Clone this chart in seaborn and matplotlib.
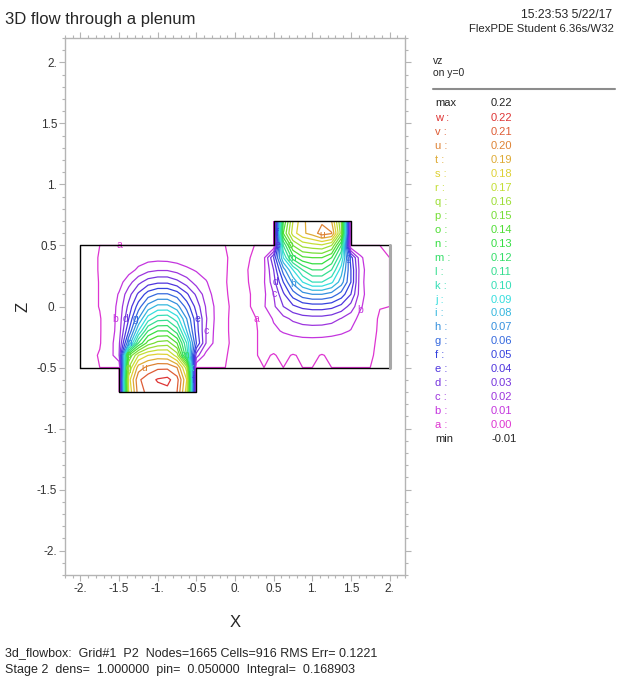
import numpy as np
import matplotlib
matplotlib.use("Agg")
import matplotlib.pyplot as plt
import seaborn as sns
from matplotlib.ticker import FixedLocator, MultipleLocator
from matplotlib.lines import Line2D

N = np.nan

# Gitterknoten (x: Spalten, z: Zeilen)
x_nodes = [-2.0, -1.875, -1.75, -1.625, -1.5, -1.375, -1.25, -1.125, -1.0, -0.875, -0.75,
           -0.625, -0.5, -0.375, -0.25, -0.125, 0.0, 0.125, 0.25, 0.375, 0.5, 0.625,
           0.75, 0.875, 1.0, 1.125, 1.25, 1.375, 1.5, 1.625, 1.75, 1.875, 2.0]
z_nodes = [-0.7, -0.6, -0.5, -0.4, -0.3, -0.2, -0.1, 0.0, 0.1, 0.2, 0.3, 0.4, 0.5, 0.6, 0.7]

# vz in Hundertsteln (Zeile z=-0.7 zuerst)
vz_rows = [
    [N] * 4 + [0, 17, 20.5, 21.3, 21.6, 21.7, 21, 17.5, 0] + [N] * 20,
    [N] * 4 + [0, 17.5, 20.8, 21.6, 22.1, 22.3, 21.4, 18, 0] + [N] * 20,
    [0] * 4 + [0, 16, 19.5, 20.3, 20.8, 20.8, 20, 16.5, 0] + [0] * 20,
    [0, -0.15, 0.05, 0.4, 2, 14, 17, 18, 18.3, 18.2, 16.5, 11, 2.5, 0.6, 0.2, 0.05, -0.2,
     -0.3, -0.05, 0.1, -0.05, 0.15, -0.05, 0.1, 0.15, -0.05, 0.15, 0.2, 0.1, 0.05, 0.05, -0.1, 0],
    [0, -0.2, -0.05, 0.5, 1.8, 7, 12, 14.5, 15.3, 15.5, 14, 10, 5, 2, 0.6, 0.2, -0.3,
     -0.5, -0.1, 0.2, 0.3, 0.45, 0.55, 0.6, 0.6, 0.6, 0.55, 0.45, 0.35, 0.2, 0.1, -0.1, 0],
    [0, -0.2, -0.05, 0.4, 1.5, 5, 9, 12, 13, 13, 11.5, 8, 4.5, 2, 0.7, 0.2, -0.4,
     -0.6, -0.2, 0.4, 0.8, 1.1, 1.3, 1.45, 1.5, 1.45, 1.35, 1.2, 0.95, 0.6, 0.2, -0.1, 0],
    [0, -0.2, -0.05, 0.4, 1.4, 4, 7, 9.5, 10.6, 10.7, 9.5, 7, 4.3, 2.1, 0.8, 0.2, -0.4,
     -0.5, -0.1, 0.4, 1.1, 1.7, 2.2, 2.5, 2.6, 2.6, 2.4, 1.95, 1.4, 0.7, 0.3, -0.1, 0],
    [0, -0.2, 0.03, 0.4, 1.3, 3.3, 5.5, 7.4, 8.3, 8.3, 7.4, 5.6, 3.6, 1.9, 0.8, 0.2, -0.3,
     -0.3, 0.2, 0.9, 1.8, 3.0, 3.8, 4.3, 4.5, 4.5, 4.3, 3.7, 2.6, 1.1, 0.5, 0.03, 0],
    [0, -0.2, 0.03, 0.3, 1.1, 2.6, 4.2, 5.5, 6.1, 6.1, 5.5, 4.2, 2.8, 1.5, 0.6, 0.1, -0.3,
     -0.3, 0.2, 0.8, 2.0, 3.8, 5.5, 6.6, 7, 7, 6.6, 5.6, 4, 1.4, 0.4, 0.03, 0],
    [0, -0.2, 0.03, 0.1, 0.6, 1.6, 2.7, 3.5, 3.8, 3.8, 3.3, 2.5, 1.6, 1.1, 0.3, 0.05, -0.3,
     -0.2, 0.3, 0.9, 2.6, 5, 7.3, 9, 10, 10, 9.2, 7.5, 5, 1.3, 0.4, 0.05, 0],
    [0, -0.2, 0.05, 0.1, 0.2, 0.6, 1.2, 1.7, 1.9, 1.9, 1.6, 1.2, 0.9, 0.5, 0.2, 0.05, -0.2,
     -0.15, 0.3, 0.8, 3, 6.5, 9, 11, 12, 12, 11, 8.5, 5, 1.4, 0.4, 0.1, 0],
    [0, -0.2, 0.05, 0.15, 0.15, 0.3, 0.5, 0.6, 0.65, 0.6, 0.5, 0.4, 0.3, 0.2, 0.1, 0.05, -0.15,
     -0.2, 0.15, 0.8, 4, 9, 12.5, 13.8, 14, 14, 13, 10, 4.5, 1.2, 0.3, 0.1, 0],
    [0] * 20 + [0, 11, 15, 16.3, 16.6, 16.8, 16, 12, 0] + [0] * 4,
    [N] * 20 + [0, 14, 17.5, 18.8, 19.4, 20.5, 20.1, 15.5, 0] + [N] * 4,
    [N] * 20 + [0, 13, 17, 18.8, 19.5, 19.8, 19, 15, 0] + [N] * 4,
]

# Konturstufen a..w
level_letters = list("abcdefghijklmnopqrstuvw")
level_values = [0.00, 0.01, 0.02, 0.03, 0.04, 0.05, 0.06, 0.07, 0.08, 0.09, 0.10, 0.11,
                0.12, 0.13, 0.14, 0.15, 0.16, 0.17, 0.18, 0.19, 0.20, 0.21, 0.22]
labelled_letters = list("abcdefghkmoqu")
vz_max = 0.22
vz_min = -0.01

# Rand des Gebiets (Kasten mit Einlass unten und Auslass oben)
boundary_x = [-2.0, -1.5, -1.5, -0.5, -0.5, 2.0, 2.0, 1.5, 1.5, 0.5, 0.5, -2.0, -2.0]
boundary_z = [-0.5, -0.5, -0.7, -0.7, -0.5, -0.5, 0.5, 0.5, 0.7, 0.7, 0.5, 0.5, -0.5]

tick_values = [-2.0, -1.5, -1.0, -0.5, 0.0, 0.5, 1.0, 1.5, 2.0]
tick_labels = ["-2.", "-1.5", "-1.", "-0.5", "0.", "0.5", "1.", "1.5", "2."]

sns.set_theme(style="ticks")
plt.rcParams['font.family'] = ['Liberation Sans', 'DejaVu Sans']

# Farben: Magenta -> Blau -> Cyan -> Grün -> Gelb -> Rot
palette = sns.hls_palette(26, h=0, l=0.54, s=0.72)[:23][::-1]

X, Z = np.meshgrid(np.array(x_nodes), np.array(z_nodes))
V = np.ma.masked_invalid(np.array(vz_rows, dtype=float) / 100.0)

fig = plt.figure(figsize=(6.25, 6.82), dpi=100)
ax = fig.add_axes([65 / 625, 1 - 575 / 682, 340 / 625, 537 / 682])

cs = ax.contour(X, Z, V, levels=level_values, colors=palette, linewidths=0.9)
label_levels = [level_values[level_letters.index(c)] for c in labelled_letters]
labels = ax.clabel(cs, levels=label_levels, inline=False, fontsize=7.5,
                   fmt=lambda v: level_letters[int(round(v * 100))])
for t in labels:
    t.set_rotation(0)

# Beschriftungen, die sich überdecken, ausdünnen
fig.canvas.draw()
renderer = fig.canvas.get_renderer()
kept = []
for t in labels:
    bb = t.get_window_extent(renderer).expanded(1.8, 1.8)
    if any(bb.overlaps(k) for k in kept):
        t.remove()
    else:
        kept.append(bb)

ax.plot(boundary_x, boundary_z, color="black", linewidth=1.0, zorder=5)
# rechter Rand in FlexPDE grau
ax.plot(boundary_x[5:7], boundary_z[5:7], color="#a8a8a8", linewidth=2.2, zorder=6)

ax.set_xlim(-2.2, 2.2)
ax.set_ylim(-2.2, 2.2)
ax.xaxis.set_major_locator(FixedLocator(tick_values))
ax.yaxis.set_major_locator(FixedLocator(tick_values))
ax.set_xticklabels(tick_labels)
ax.set_yticklabels(tick_labels)
ax.xaxis.set_minor_locator(MultipleLocator(0.1))
ax.yaxis.set_minor_locator(MultipleLocator(0.1))
ax.tick_params(which="both", direction="out", top=True, right=True,
               labeltop=False, labelright=False, color="#b4b4b4",
               labelsize=8.5, labelcolor="#333333", width=0.8)
ax.tick_params(which="major", length=4, pad=1.5)
ax.tick_params(which="minor", length=2.5)
for sp in ax.spines.values():
    sp.set_color("#b4b4b4")
    sp.set_linewidth(1.0)

ax.set_xlabel("X", fontsize=12, labelpad=15)
ax.set_ylabel("Z", fontsize=12, labelpad=5)

# Kopfzeilen
fig.text(5 / 625, 1 - 24 / 682, "3D flow through a plenum", fontsize=12, va="baseline")
fig.text(612 / 625, 1 - 18 / 682, "15:23:53 5/22/17", fontsize=8.8, ha="right", va="baseline")
fig.text(614 / 625, 1 - 32 / 682, "FlexPDE Student 6.36s/W32", fontsize=8.2, ha="right", va="baseline")

# Legende rechts
fig.text(433 / 625, 1 - 64 / 682, "vz", fontsize=7.5, va="baseline")
fig.text(433 / 625, 1 - 75.5 / 682, "on y=0", fontsize=7.5, va="baseline")
fig.add_artist(Line2D([433 / 625, 615 / 625], [1 - 89 / 682] * 2, color="#8c8c8c", linewidth=1.5))

fig.text(435 / 625, 1 - 103.5 / 682, "max", fontsize=8, va="center", color="#222222")
fig.text(491 / 625, 1 - 103.5 / 682, f"{vz_max:.2f}", fontsize=8, va="center", color="#222222")
for i, (letter, val) in enumerate(zip(level_letters[::-1], level_values[::-1])):
    y = 1 - (118.3 + 13.94 * i) / 682
    col = palette[len(level_letters) - 1 - i]
    fig.text(435 / 625, y, f"{letter} :", fontsize=8, va="center", color=col)
    fig.text(491 / 625, y, f"{val:.2f}", fontsize=8, va="center", color=col)
fig.text(435 / 625, 1 - 439 / 682, "min", fontsize=8, va="center", color="#222222")
fig.text(491 / 625, 1 - 439 / 682, f"{vz_min:.2f}", fontsize=8, va="center", color="#222222")

# Fußzeilen
fig.text(5 / 625, 1 - 653 / 682, "3d_flowbox:  Grid#1  P2  Nodes=1665 Cells=916 RMS Err= 0.1221",
         fontsize=9, va="center")
fig.text(5 / 625, 1 - 670 / 682, "Stage 2  dens=  1.000000  pin=  0.050000  Integral=  0.168903",
         fontsize=9, va="center")

fig.savefig("out.png", dpi=100)
